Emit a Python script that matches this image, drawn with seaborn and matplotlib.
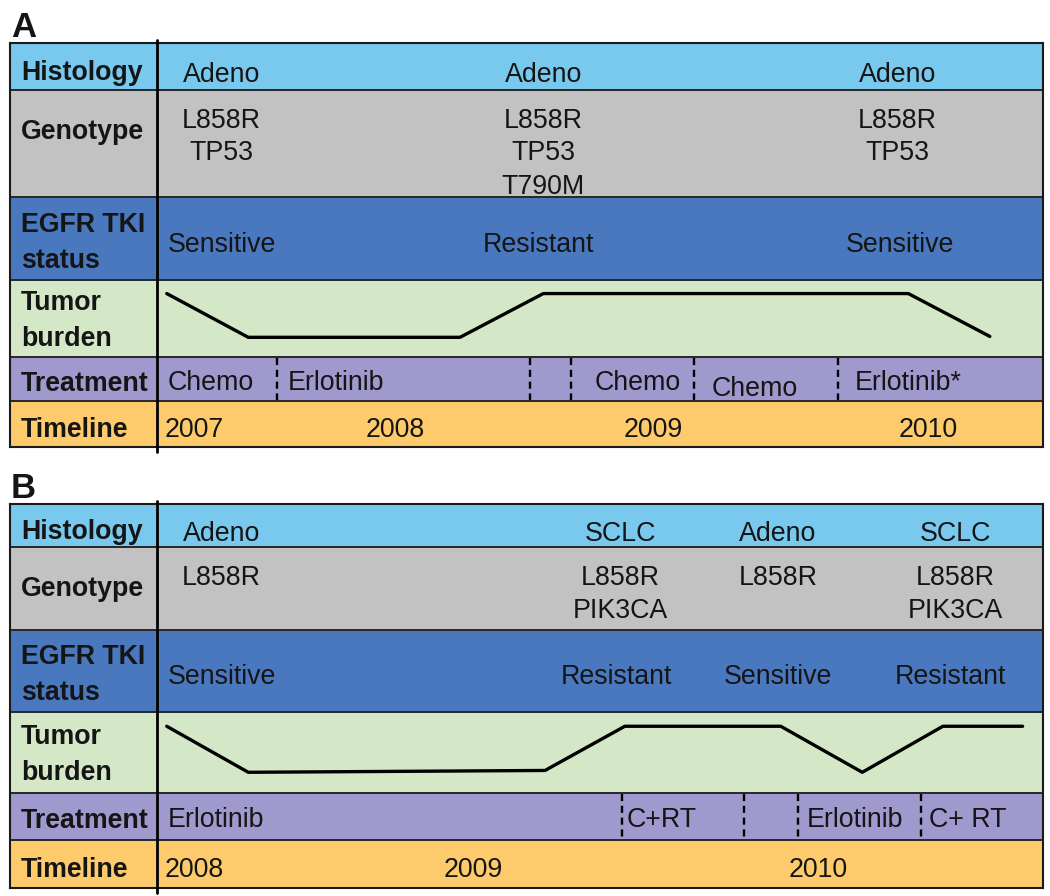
import matplotlib
matplotlib.use("Agg")
import matplotlib.pyplot as plt
from matplotlib.lines import Line2D
import seaborn as sns
import pandas as pd

sns.set_theme(style="white")
plt.rcParams['font.family'] = ['Liberation Sans', 'DejaVu Sans']

# ---------------- data (x = % of the timeline width) ----------------
row_names = ["Histology", "Genotype", "EGFR TKI\nstatus", "Tumor\nburden", "Treatment", "Timeline"]
row_colors = ["#79c9ef", "#c2c2c2", "#4a78be", "#d4e8c8", "#9f99cd", "#fecb6c"]

a_hist_labels = ["Adeno", "Adeno", "Adeno"]
a_hist_x = [7.3, 43.6, 83.6]
a_geno_labels = ["L858R\nTP53", "L858R\nTP53\nT790M", "L858R\nTP53"]
a_geno_x = [7.3, 43.6, 83.6]
a_egfr_labels = ["Sensitive", "Resistant", "Sensitive"]
a_egfr_x = [7.3, 43.0, 83.9]
a_tumor_x = [1.1, 10.3, 34.2, 43.6, 84.8, 94.0]
a_tumor_y = [1.0, 0.0, 0.0, 1.0, 1.0, 0.02]
a_treat_labels = ["Chemo", "Erlotinib", "Chemo", "Chemo", "Erlotinib*"]
a_treat_x = [1.2, 14.8, 49.4, 62.6, 78.8]
a_treat_breaks = [13.5, 42.1, 46.7, 60.6, 76.9]
a_years = ["2007", "2008", "2009", "2010"]
a_year_x = [4.2, 26.9, 56.0, 87.0]

b_hist_labels = ["Adeno", "SCLC", "Adeno", "SCLC"]
b_hist_x = [7.3, 52.3, 70.1, 90.1]
b_geno_labels = ["L858R", "L858R\nPIK3CA", "L858R", "L858R\nPIK3CA"]
b_geno_x = [7.3, 52.3, 70.1, 90.1]
b_egfr_labels = ["Sensitive", "Resistant", "Sensitive", "Resistant"]
b_egfr_x = [7.3, 51.8, 70.1, 89.5]
b_tumor_x = [1.1, 10.3, 43.8, 52.8, 70.4, 79.6, 88.7, 97.7]
b_tumor_y = [1.0, 0.0, 0.04, 1.0, 1.0, 0.0, 1.0, 1.0]
b_treat_labels = ["Erlotinib", "C+RT", "Erlotinib", "C+ RT"]
b_treat_x = [1.2, 53.0, 73.3, 87.1]
b_treat_breaks = [52.5, 66.3, 72.3, 86.2]
b_years = ["2008", "2009", "2010"]
b_year_x = [4.2, 35.7, 74.6]

# ---------------- layout ----------------
W, H = 1050, 896
X_LEFT, X_DIV, X_RIGHT = 10, 157, 1043
FS = 19.3
TXT = "#151515"

fig = plt.figure(figsize=(W / 100, H / 100), dpi=100)


def px_axes(x0, y0, x1, y1, z=1):
    return fig.add_axes([x0 / W, 1 - y1 / H, (x1 - x0) / W, (y1 - y0) / H], zorder=z)


def draw_panel(letter, top, heights, d):
    bounds = [0]
    for h in heights:
        bounds.append(bounds[-1] + h)
    total = bounds[-1]
    bottom = top + total

    fig.text((X_LEFT + 1) / W, 1 - (top - 19) / H, letter, fontsize=25, fontweight="bold",
             ha="left", va="center_baseline", color=TXT)

    lab = px_axes(X_LEFT, top, X_DIV, bottom)
    ax = px_axes(X_DIV, top, X_RIGHT, bottom)
    lab.set_xlim(0, X_DIV - X_LEFT)
    ax.set_xlim(0, 100)
    for a in (lab, ax):
        a.set_ylim(total, 0)
        a.set_xticks([])
        a.set_yticks([])
        for i, c in enumerate(row_colors):
            a.axhspan(bounds[i], bounds[i + 1], color=c, lw=0, zorder=0)
        for b in bounds[1:-1]:
            a.axhline(b, color="#262626", lw=1.4, zorder=2)
        for s in a.spines.values():
            s.set_color("#1a1a1a")
            s.set_linewidth(1.5)
    ax.spines["left"].set_visible(False)
    lab.spines["right"].set_visible(False)

    # divider between labels and content
    fig.add_artist(Line2D([X_DIV / W, X_DIV / W], [1 - (top - 3) / H, 1 - (bottom + 5) / H],
                          color="black", lw=2.0, transform=fig.transFigure, zorder=10))

    # row labels
    label_lines = {
        0: [(0.5 * heights[0] + 3, "Histology")],
        1: [(39, "Genotype")],
        2: [(0.5 * heights[2] - 17, "EGFR TKI"), (0.5 * heights[2] + 19, "status")],
        3: [(0.5 * heights[3] - 18.5, "Tumor"), (0.5 * heights[3] + 17, "burden")],
        4: [(0.5 * heights[4] + 1.5, "Treatment")],
        5: [(0.5 * heights[5] + 3, "Timeline")],
    }
    for i, items in label_lines.items():
        for dy, t in items:
            lab.text(11, bounds[i] + dy, t, fontsize=FS, fontweight="bold", ha="left",
                     va="center_baseline", color=TXT)

    # histology
    for x, t in zip(d["hist_x"], d["hist"]):
        ax.text(x, bounds[0] + 0.5 * heights[0] + 5, t, fontsize=FS, ha="center",
                va="center_baseline", color=TXT)
    # genotype
    for x, t in zip(d["geno_x"], d["geno"]):
        for k, line in enumerate(t.split("\n")):
            ax.text(x, bounds[1] + 27.5 + 33 * k, line, fontsize=FS, ha="center",
                    va="center_baseline", color=TXT)
    # EGFR status
    for x, t in zip(d["egfr_x"], d["egfr"]):
        ax.text(x, bounds[2] + 0.5 * heights[2] + 3, t, fontsize=FS, ha="center",
                va="center_baseline", color=TXT)
    # treatment
    for x, t, dy in zip(d["treat_x"], d["treat"], d["treat_dy"]):
        ax.text(x, bounds[4] + 0.5 * heights[4] + 0.5 + dy, t, fontsize=FS, ha="left",
                va="center_baseline", color=TXT)
    ax.vlines(d["breaks"], bounds[4] + 1, bounds[5] - 1, colors="black", lw=1.7,
              linestyles=(0, (3, 2)), zorder=3)
    # timeline
    for x, t in zip(d["year_x"], d["years"]):
        ax.text(x, bounds[5] + 0.5 * heights[5] + 2.5, t, fontsize=FS, ha="center",
                va="center_baseline", color=TXT)

    # tumor burden line
    tax = px_axes(X_DIV, top + bounds[3], X_RIGHT, top + bounds[4], z=3)
    tax.patch.set_alpha(0)
    df = pd.DataFrame({"x": d["tumor_x"], "y": d["tumor_y"]})
    sns.lineplot(data=df, x="x", y="y", sort=False, estimator=None, color="black",
                 lw=2.4, ax=tax)
    tax.set_xlim(0, 100)
    tax.set_ylim(-0.45, 1.31)
    tax.set_axis_off()


draw_panel("A", 43, [47, 107, 83, 77, 44, 46], dict(
    hist=a_hist_labels, hist_x=a_hist_x, geno=a_geno_labels, geno_x=a_geno_x,
    egfr=a_egfr_labels, egfr_x=a_egfr_x, tumor_x=a_tumor_x, tumor_y=a_tumor_y,
    treat=a_treat_labels, treat_x=a_treat_x, treat_dy=[0, 0, 0, 6, 0],
    breaks=a_treat_breaks, years=a_years, year_x=a_year_x))

draw_panel("B", 504, [43, 83, 82, 81, 47, 48], dict(
    hist=b_hist_labels, hist_x=b_hist_x, geno=b_geno_labels, geno_x=b_geno_x,
    egfr=b_egfr_labels, egfr_x=b_egfr_x, tumor_x=b_tumor_x, tumor_y=b_tumor_y,
    treat=b_treat_labels, treat_x=b_treat_x, treat_dy=[0, 0, 0, 0],
    breaks=b_treat_breaks, years=b_years, year_x=b_year_x))

fig.savefig("out.png", dpi=100, facecolor="white")
